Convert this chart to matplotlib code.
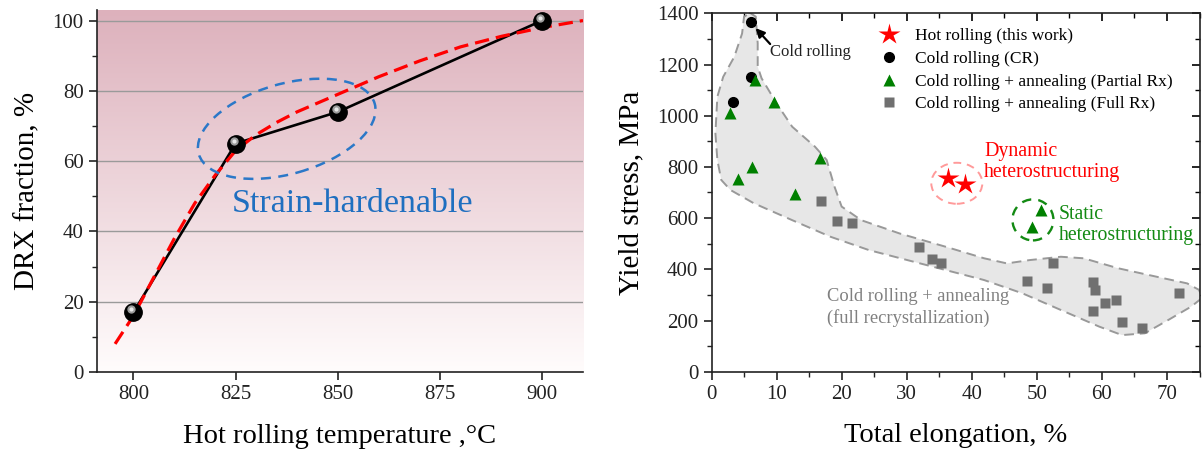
import numpy as np
import matplotlib
matplotlib.use("Agg")
import matplotlib.pyplot as plt
from matplotlib.patches import Ellipse
from matplotlib.transforms import ScaledTranslation, offset_copy

plt.rcParams["font.family"] = ["Liberation Serif", "DejaVu Serif"]

# ---------------------------------------------------------------------------
# Left panel: DRX fraction vs hot rolling temperature
# ---------------------------------------------------------------------------
temp = [800, 825, 850, 900]
drx = [17, 65, 74, 100]

# red dashed trend curve
fit_t = [795.5, 800, 805, 810, 815, 820, 825, 830, 835, 840, 845, 850, 855,
         860, 870, 880, 890, 900, 910]
fit_y = [8, 16, 27, 38, 48, 56, 63, 67.5, 71, 74, 76.5, 79, 81.5,
         84, 88.5, 92.5, 95.5, 98, 100]

# ---------------------------------------------------------------------------
# Right panel: yield stress vs total elongation
# ---------------------------------------------------------------------------
hot_el = [36.3, 39.0]
hot_ys = [755, 733]

cr_el = [6.0, 6.0, 3.3]
cr_ys = [1365, 1150, 1052]

partial_el = [6.7, 9.6, 2.9, 4.1, 6.3, 16.7, 12.9]
partial_ys = [1139, 1055, 1009, 753, 798, 833, 694]

static_el = [50.7, 49.2]
static_ys = [632, 564]

full_el = [16.9, 19.3, 21.6, 31.9, 33.9, 35.3, 48.5, 51.6, 52.5, 58.7, 59.0,
           58.7, 60.5, 62.1, 63.1, 66.2, 71.9]
full_ys = [667, 589, 580, 486, 439, 426, 354, 326, 423, 350, 319,
           238, 270, 280, 194, 169, 309]

# hand-drawn envelope around the cold rolling data
env_el = [5.9, 6.8, 7.1, 7.1, 7.7, 10.0, 12.4, 15.9, 17.7, 18.9, 20.0, 23.0,
          28.9, 36.0, 41.9, 45.4, 48.9, 53.7, 57.2, 62.5, 68.4, 73.1, 74.9,
          75.5, 73.7, 70.2, 66.6, 63.1, 59.6, 53.7, 47.8, 41.9, 36.0, 30.1,
          24.2, 18.3, 12.4, 6.5, 2.9, 1.5, 0.9, 0.6, 0.9, 1.8, 3.5, 4.7, 5.0]
env_ys = [1402, 1387, 1283, 1191, 1146, 1048, 957, 879, 827, 723, 645, 592,
          540, 488, 443, 423, 436, 449, 443, 404, 371, 345, 320,
          290, 254, 202, 150, 143, 176, 241, 306, 358, 397, 436,
          475, 527, 592, 658, 710, 749, 827, 931, 1074, 1152, 1230, 1321, 1386]

fig = plt.figure(figsize=(12.03, 4.58), dpi=100)
W, H = 1203, 458
ax1 = fig.add_axes([96.7 / W, 1 - 372 / H, (583 - 96.7) / W, (372 - 10) / H])
ax2 = fig.add_axes([711.5 / W, 1 - 371.7 / H, (1199.5 - 711.5) / W, (371.7 - 13.3) / H])

# ---- left panel ----
ax1.set_xlim(791, 910)
ax1.set_ylim(0, 103)
top = np.array([221, 177, 188]) / 255
bot = np.array([255, 252, 252]) / 255
g = np.linspace(0, 1, 256)[:, None]
grad = (top * (1 - g) + bot * g)[:, None, :] * np.ones((1, 2, 1))
ax1.imshow(grad, extent=[791, 910, 0, 103], aspect="auto", zorder=0, origin="upper")
for yv in [20, 40, 60, 80, 100]:
    ax1.axhline(yv, color="#9a9a9a", lw=1, zorder=1)

ax1.plot(temp, drx, color="black", lw=1.9, zorder=3)
ax1.plot(fit_t, fit_y, color="#ff0000", lw=2.3, ls=(0, (4.5, 2.2)), zorder=4)
ax1.plot(temp, drx, "o", color="black", ms=12.5, zorder=5)
hl = offset_copy(ax1.transData, fig=fig, x=-2, y=3, units="dots")
ax1.plot(temp, drx, "o", color="#9a9a9a", ms=6, mec="none", transform=hl, zorder=6)
ax1.plot(temp, drx, "o", color="#e8e8e8", ms=3, mec="none", transform=hl, zorder=7)

ell = Ellipse((0, 0), 1.83, 0.90, angle=16, fill=False, ec="#2b78c8", lw=1.8,
              ls=(0, (4, 3)),
              transform=fig.dpi_scale_trans + ScaledTranslation(837.5, 69.2, ax1.transData),
              zorder=4)
ax1.add_patch(ell)
ax1.text(853.6, 48, "Strain-hardenable", color="#1f6fc0", fontsize=24.5,
         ha="center", va="center", zorder=6)

ax1.set_xticks([800, 825, 850, 875, 900])
ax1.set_yticks([0, 20, 40, 60, 80, 100])
ax1.set_yticks(range(10, 101, 20), minor=True)
ax1.tick_params(axis="both", labelsize=15, direction="out", length=6, width=1.2,
                colors="#222222")
ax1.tick_params(axis="y", which="minor", length=3.5, width=1.0, colors="#222222")
for s in ["top", "right"]:
    ax1.spines[s].set_visible(False)
for s in ["left", "bottom"]:
    ax1.spines[s].set_linewidth(1.2)
    ax1.spines[s].set_color("#222222")
ax1.set_xlabel("Hot rolling temperature ,\u00b0C", fontsize=20.5, labelpad=14)
ax1.set_ylabel("DRX fraction, %", fontsize=21, labelpad=9)

# ---- right panel ----
ax2.set_xlim(0, 75)
ax2.set_ylim(0, 1400)
ax2.fill(env_el, env_ys, facecolor="#e7e7e7", edgecolor="#999999", lw=1.4,
         ls=(0, (5, 3)), zorder=1)

ax2.plot(full_el, full_ys, "s", color="#707070", ms=7, mec="none", zorder=3,
         label="Cold rolling + annealing (Full Rx)")
ax2.plot(cr_el, cr_ys, "o", color="black", ms=7, zorder=3, label="Cold rolling (CR)")
ax2.plot(partial_el, partial_ys, "^", color="#008000", ms=8.5, mec="none", zorder=4,
         label="Cold rolling + annealing (Partial Rx)")
ax2.plot(static_el, static_ys, "^", color="#008000", ms=8.5, mec="none", zorder=4)
ax2.plot(hot_el, hot_ys, "*", color="#ff0000", ms=16, mec="none", zorder=5,
         label="Hot rolling (this work)")

ax2.add_patch(Ellipse((0, 0), 0.51, 0.41, fill=False, ec="#ff9a9a", lw=1.4,
                      ls=(0, (4, 3)),
                      transform=fig.dpi_scale_trans + ScaledTranslation(37.7, 736, ax2.transData)))
ax2.add_patch(Ellipse((0, 0), 0.41, 0.41, fill=False, ec="#138a13", lw=1.7,
                      ls=(0, (4, 3)),
                      transform=fig.dpi_scale_trans + ScaledTranslation(49.4, 593, ax2.transData)))

ax2.annotate("", xy=(6.5, 1350), xytext=(9.3, 1272),
             arrowprops=dict(arrowstyle="-|>", color="black", lw=1.6, mutation_scale=13))
ax2.text(9.0, 1250, "Cold rolling", fontsize=12, ha="left", va="center", color="#222222")
ax2.text(41.9, 820, "Dynamic\nheterostructuring", color="#ff0000", fontsize=14.4,
         ha="left", va="center", linespacing=1.15)
ax2.text(53.4, 573, "Static\nheterostructuring", color="#138a13", fontsize=14.2,
         ha="left", va="center", linespacing=1.15)
ax2.text(17.7, 250, "Cold rolling + annealing\n(full recrystallization)", color="#808080",
         fontsize=13.3, ha="left", va="center", linespacing=1.3)

h, l = ax2.get_legend_handles_labels()
order = [3, 1, 2, 0]
ax2.legend([h[i] for i in order], [l[i] for i in order], loc="upper left",
           bbox_to_anchor=(0.312, 1.0), frameon=False, fontsize=12.5,
           handlelength=1.2, handletextpad=0.9, labelspacing=0.38, borderpad=0.35)

ax2.set_xticks(range(0, 71, 10))
ax2.set_xticks(range(5, 76, 5), minor=True)
ax2.set_yticks(range(0, 1401, 200))
ax2.set_yticks(range(100, 1400, 200), minor=True)
ax2.tick_params(axis="both", which="major", labelsize=15, direction="out", length=6,
                width=1.2, colors="#222222")
ax2.tick_params(axis="both", which="minor", direction="out", length=3.5, width=1.0,
                colors="#222222")
for s in ax2.spines.values():
    s.set_linewidth(1.2)
    s.set_color("#222222")
# mirrored ticks on top/right pointing inward
sec_x = ax2.secondary_xaxis("top")
sec_x.set_xticks(range(0, 71, 10))
sec_x.set_xticks(range(5, 76, 5), minor=True)
sec_x.tick_params(which="major", direction="in", length=6, width=1.2, labeltop=False)
sec_x.tick_params(which="minor", direction="in", length=3.5, width=1.0)
sec_x.spines["top"].set_visible(False)
sec_y = ax2.secondary_yaxis("right")
sec_y.set_yticks(range(0, 1401, 200))
sec_y.set_yticks(range(100, 1400, 200), minor=True)
sec_y.tick_params(which="major", direction="in", length=6, width=1.2, labelright=False)
sec_y.tick_params(which="minor", direction="in", length=3.5, width=1.0)
sec_y.spines["right"].set_visible(False)

ax2.set_xlabel("Total elongation, %", fontsize=20.5, labelpad=14)
ax2.set_ylabel("Yield stress, MPa", fontsize=21, labelpad=9)

fig.savefig("out.png", dpi=100)
